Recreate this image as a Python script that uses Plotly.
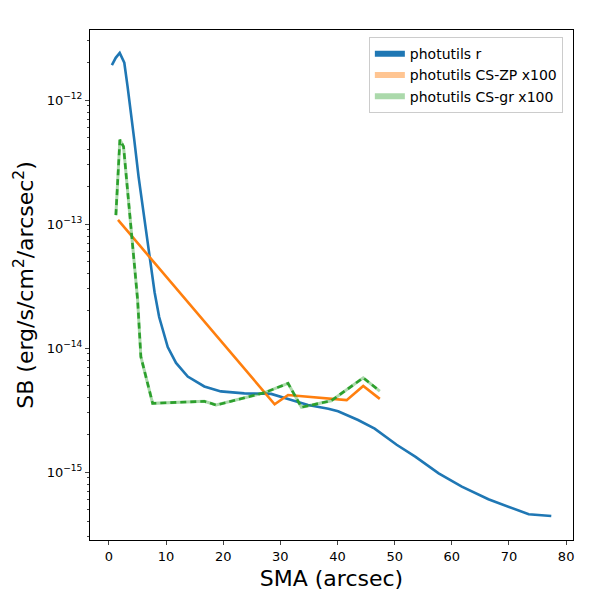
import plotly.graph_objects as go

# surface brightness profiles (SMA in arcsec, SB in erg/s/cm^2/arcsec^2)
sma_r = [0.53, 1.2, 1.9, 2.7, 3.27, 3.9, 4.44, 5.2, 5.9, 6.6, 7.37, 8.0, 8.8, 10.3,
         11.75, 13.8, 16.7, 19.6, 23.7, 28.4, 31.35, 34.85, 38.4, 40.1, 43.6, 46.5,
         50.35, 53.6, 57.7, 61.75, 66.4, 70.0, 73.45, 77.4]
sb_r = [1.91e-12, 2.19e-12, 2.40e-12, 2.0e-12, 1.29e-12, 7.94e-13, 4.79e-13, 2.40e-13,
        1.38e-13, 7.94e-14, 4.27e-14, 2.82e-14, 1.78e-14, 1.02e-14, 7.59e-15, 5.89e-15,
        4.90e-15, 4.47e-15, 4.31e-15, 4.27e-15, 3.89e-15, 3.47e-15, 3.24e-15, 3.09e-15,
        2.63e-15, 2.24e-15, 1.66e-15, 1.33e-15, 9.77e-16, 7.62e-16, 6.03e-16, 5.25e-16,
        4.57e-16, 4.42e-16]

sma_zp = [1.6, 29.0, 31.35, 41.6, 44.5, 47.4]
sb_zp = [1.08e-13, 3.52e-15, 4.18e-15, 3.80e-15, 4.94e-15, 3.89e-15]

sma_gr = [1.23, 1.93, 2.57, 5.03, 5.6, 7.66, 16.7, 18.77, 27.25, 31.35, 33.7, 38.9, 44.5, 47.4]
sb_gr = [1.18e-13, 4.79e-13, 4.21e-13, 2.45e-14, 8.51e-15, 3.58e-15, 3.72e-15, 3.47e-15,
         4.37e-15, 5.19e-15, 3.33e-15, 3.76e-15, 5.75e-15, 4.50e-15]

names = ["photutils r", "photutils CS-ZP x100", "photutils CS-gr x100"]

y_ticks = [1e-15, 1e-14, 1e-13, 1e-12]
y_ticktext = ["10<sup>\u221215</sup>", "10<sup>\u221214</sup>",
              "10<sup>\u221213</sup>", "10<sup>\u221212</sup>"]
y_minor = [m * 10.0 ** e for e in range(-16, -11) for m in range(2, 10)]

fig = go.Figure()

fig.add_trace(go.Scatter(x=sma_r, y=sb_r, mode="lines", showlegend=False,
                         line=dict(color="#1f77b4", width=2.6)))
fig.add_trace(go.Scatter(x=sma_zp, y=sb_zp, mode="lines", showlegend=False,
                         line=dict(color="#ff7f0e", width=2.6)))
fig.add_trace(go.Scatter(x=sma_gr, y=sb_gr, mode="lines", showlegend=False,
                         line=dict(color="rgba(44,160,44,0.4)", width=3)))
fig.add_trace(go.Scatter(x=sma_gr, y=sb_gr, mode="lines", showlegend=False,
                         line=dict(color="#2ca02c", width=2.6, dash="6px,4px")))

# legend patches
for name, col in zip(names, ["#1f77b4", "rgba(255,127,14,0.45)", "rgba(44,160,44,0.4)"]):
    fig.add_trace(go.Scatter(x=[None], y=[None], mode="none", fill="toself",
                             fillcolor=col, name=name))

fig.update_layout(
    width=600, height=600,
    margin=dict(l=82, r=35, t=22, b=68),
    plot_bgcolor="white", paper_bgcolor="white",
    font=dict(family="DejaVu Sans", size=13, color="black"),
    legend=dict(x=0.979, y=0.986, xanchor="right", yanchor="top",
                bgcolor="rgba(255,255,255,0.8)", bordercolor="#cccccc", borderwidth=1,
                font=dict(size=14), tracegroupgap=2),
)
fig.update_xaxes(range=[-3.3, 81.2], tickvals=[0, 10, 20, 30, 40, 50, 60, 70, 80],
                 ticks="outside", ticklen=4, showgrid=False, zeroline=False,
                 showline=True, linecolor="black", mirror=True,
                 title=dict(text="SMA (arcsec)", font=dict(size=22), standoff=8))
fig.update_yaxes(type="log", range=[-15.548, -11.435], tickvals=y_ticks, ticktext=y_ticktext,
                 ticks="outside", ticklen=4, showgrid=False, zeroline=False,
                 showline=True, linecolor="black", mirror=True,
                 minor=dict(tickvals=y_minor, ticks="outside", ticklen=2, showgrid=False),
                 title=dict(text="SB (erg/s/cm<sup>2</sup>/arcsec<sup>2</sup>)",
                            font=dict(size=22), standoff=6))

fig.write_html("out.html")
